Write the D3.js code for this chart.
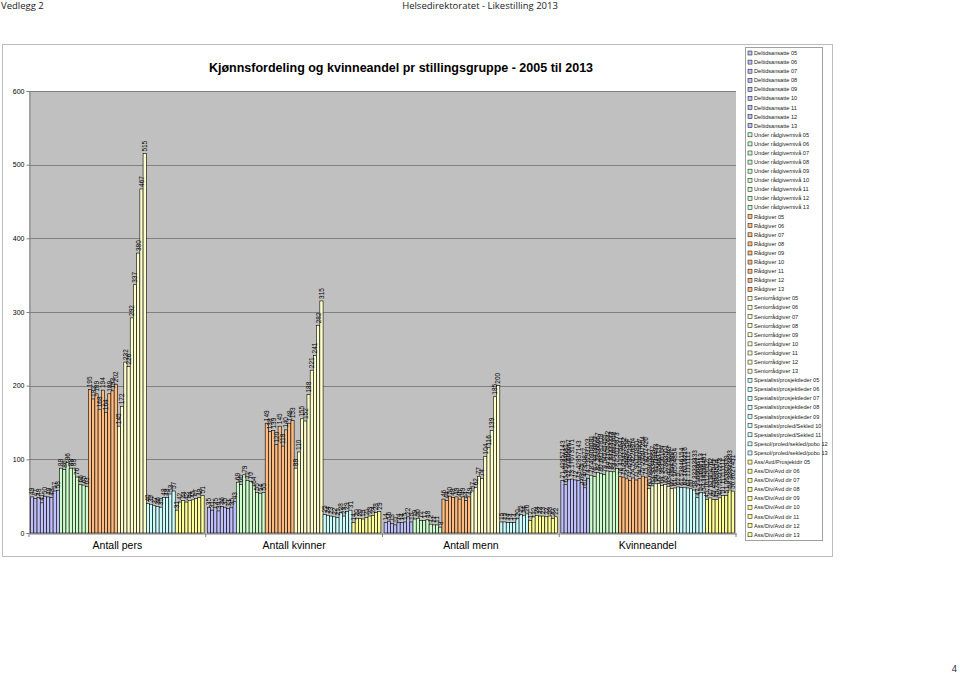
<!DOCTYPE html>
<html>
<head>
<meta charset="utf-8">
<script src="https://cdn.jsdelivr.net/npm/d3@7"></script>
<style>
  body { margin: 0; background: #fff; }
  svg { display: block; font-family: Arial, "Liberation Sans", sans-serif; }
</style>
</head>
<body>
<div id="chart"></div>
<script>
// --- data ---
const groups = ["Antall pers", "Antall kvinner", "Antall menn", "Kvinneandel"];

const seriesNames = [
  "Deltidsansatte 05", "Deltidsansatte 06", "Deltidsansatte 07", "Deltidsansatte 08", "Deltidsansatte 09",
  "Deltidsansatte 10", "Deltidsansatte 11", "Deltidsansatte 12", "Deltidsansatte 13",
  "Under rådgivernivå 05", "Under rådgivernivå 06", "Under rådgivernivå 07", "Under rådgivernivå 08", "Under rådgivernivå 09",
  "Under rådgivernivå 10", "Under rådgivernivå 11", "Under rådgivernivå 12", "Under rådgivernivå 13",
  "Rådgiver 05", "Rådgiver 06", "Rådgiver 07", "Rådgiver 08", "Rådgiver 09",
  "Rådgiver 10", "Rådgiver 11", "Rådgiver 12", "Rådgiver 13",
  "Seniorrådgiver 05", "Seniorrådgiver 06", "Seniorrådgiver 07", "Seniorrådgiver 08", "Seniorrådgiver 09",
  "Seniorrådgiver 10", "Seniorrådgiver 11", "Seniorrådgiver 12", "Seniorrådgiver 13",
  "Spesialist/prosjektleder 05", "Spesialist/prosjektleder 06", "Spesialist/prosjektleder 07",
  "Spesialist/prosjektleder 08", "Spesialist/prosjektleder 09",
  "Spesialist/proled/Sekled 10", "Spesialist/proled/Sekled 11",
  "Spesol/proled/sekled/pobo 12", "Spesol/proled/sekled/pobo 13",
  "Ass/Avd/Prosjektdir 05", "Ass/Div/Avd dir 06", "Ass/Div/Avd dir 07", "Ass/Div/Avd dir 08", "Ass/Div/Avd dir 09",
  "Ass/Div/Avd dir 10", "Ass/Div/Avd dir 11", "Ass/Div/Avd dir 12", "Ass/Div/Avd dir 13"
];

// one fill per stillingsgruppe (9 series each)
const groupColors = ["#c0c0ff", "#ccffcc", "#ffbb80", "#ffffcc", "#ccffff", "#ffff99"];

const antallPers = [
  49, 47, 48, 41, 50, 49, 48, 57, 58,
  88, 86, 96, 88, 88, 76, 66, 65, 63,
  195, 182, 189, 168, 194, 164, 189, 193, 202,
  145, 172, 232, 226, 292, 337, 380, 467, 515,
  40, 39, 37, 36, 35, 48, 48, 53, 57,
  31, 42, 44, 42, 44, 45, 47, 48, 51
];
const antallKvinner = [
  35, 31, 35, 30, 36, 35, 33, 35, 43,
  69, 66, 79, 71, 70, 64, 55, 54, 55,
  149, 138, 139, 120, 145, 118, 140, 149, 153,
  88, 110, 155, 152, 188, 221, 241, 282, 315,
  25, 24, 23, 22, 21, 28, 23, 29, 31,
  14, 20, 20, 19, 21, 23, 24, 28, 29
];
const antallMenn = [
  14, 16, 13, 11, 14, 14, 15, 22, 15,
  19, 20, 17, 17, 18, 12, 11, 11, 8,
  46, 44, 50, 48, 49, 46, 49, 44, 49,
  57, 62, 77, 74, 104, 116, 139, 185, 200,
  15, 15, 14, 14, 14, 20, 25, 24, 26,
  17, 22, 24, 23, 23, 22, 23, 20, 22
];
const kvinneandel = [
  71.42857143, 65.95744681, 72.91666667, 73.17073171, 72, 71.42857143, 68.75, 61.40350877, 74.13793103,
  78.40909091, 76.74418605, 82.29166667, 80.68181818, 79.54545455, 84.21052632, 83.33333333, 83.07692308, 87.3015873,
  76.41025641, 75.82417582, 73.54497354, 71.42857143, 74.74226804, 71.95121951, 74.07407407, 77.20207254, 75.74257426,
  60.68965517, 63.95348837, 66.81034483, 67.25663717, 64.38356164, 65.57863501, 63.42105263, 60.38543897, 61.16504854,
  62.5, 61.53846154, 62.16216216, 61.11111111, 60, 58.33333333, 47.91666667, 54.71698113, 54.38596491,
  45.16129032, 47.61904762, 45.45454545, 45.23809524, 47.72727273, 51.11111111, 51.06382979, 58.33333333, 56.8627451
];
const valuesByGroup = [antallPers, antallKvinner, antallMenn, kvinneandel];

const yTicks = [0, 100, 200, 300, 400, 500, 600];

// --- canvas ---
const W = 960, H = 674;
const svg = d3.select("#chart").append("svg")
  .attr("width", W).attr("height", H)
  .attr("viewBox", `0 0 ${W} ${H}`);

// page header
svg.append("text").attr("x", 1).attr("y", 9)
  .style("font-family", "'Open Sans', sans-serif").style("font-size", "9.5px").attr("fill", "#222")
  .text("Vedlegg 2");
svg.append("text").attr("x", 480).attr("y", 9).attr("text-anchor", "middle")
  .style("font-family", "'Open Sans', sans-serif").style("font-size", "9.5px").attr("fill", "#222")
  .text("Helsedirektoratet - Likestilling 2013");
svg.append("text").attr("x", 957).attr("y", 672).attr("text-anchor", "end")
  .style("font-family", "'Open Sans', sans-serif").style("font-size", "9px").attr("fill", "#222")
  .text("4");

// chart frame
svg.append("rect").attr("x", 2.5).attr("y", 44.5).attr("width", 830).attr("height", 512)
  .attr("fill", "#fff").attr("stroke", "#bdbdbd");

// title
svg.append("text").attr("x", 401).attr("y", 72).attr("text-anchor", "middle")
  .style("font-size", "12.5px").style("font-weight", "bold").attr("fill", "#000")
  .text("Kjønnsfordeling og kvinneandel pr stillingsgruppe - 2005 til 2013");

// --- plot area ---
const plot = { left: 29, right: 736, top: 91, bottom: 533 };

const x0 = d3.scaleBand().domain(groups).range([plot.left, plot.right]).padding(0);
const x1 = d3.scaleBand().domain(d3.range(seriesNames.length))
  .range([0, x0.bandwidth()]).paddingInner(0).paddingOuter(0.5);
const y = d3.scaleLinear().domain([0, 600]).range([plot.bottom, plot.top]);

svg.append("rect")
  .attr("x", plot.left).attr("y", plot.top)
  .attr("width", plot.right - plot.left).attr("height", plot.bottom - plot.top)
  .attr("fill", "#c0c0c0");

// gridlines
svg.append("g").selectAll("line").data(yTicks.filter(d => d > 0)).join("line")
  .attr("x1", plot.left).attr("x2", plot.right)
  .attr("y1", d => Math.round(y(d)) + 0.5).attr("y2", d => Math.round(y(d)) + 0.5)
  .attr("stroke", "#808080").attr("stroke-width", 1);

// y axis
const yAxis = svg.append("g")
  .attr("transform", `translate(${plot.left + 0.5},0)`)
  .call(d3.axisLeft(y).tickValues(yTicks).tickSize(3).tickPadding(2));
yAxis.select(".domain").attr("stroke", "#808080");
yAxis.selectAll(".tick line").attr("stroke", "#808080");
yAxis.selectAll("text").style("font-size", "7px").attr("fill", "#000")
  .style("font-family", "Arial, 'Liberation Sans', sans-serif");

// x axis
const xAxis = svg.append("g")
  .attr("transform", `translate(0,${plot.bottom + 0.5})`)
  .call(d3.axisBottom(x0).tickSize(0).tickPadding(8));
xAxis.select(".domain").attr("stroke", "#808080");
xAxis.selectAll("text").style("font-size", "10.5px").attr("fill", "#000")
  .style("font-family", "Arial, 'Liberation Sans', sans-serif");
svg.append("g").selectAll("line").data(d3.range(groups.length + 1)).join("line")
  .attr("x1", i => plot.left + i * x0.bandwidth()).attr("x2", i => plot.left + i * x0.bandwidth())
  .attr("y1", plot.bottom).attr("y2", plot.bottom + 4)
  .attr("stroke", "#808080");

// --- bars ---
const cells = [];
groups.forEach((g, gi) => {
  valuesByGroup[gi].forEach((v, si) => cells.push({ group: g, series: si, value: v }));
});

svg.append("g").selectAll("rect").data(cells).join("rect")
  .attr("x", d => x0(d.group) + x1(d.series))
  .attr("y", d => y(d.value))
  .attr("width", x1.bandwidth())
  .attr("height", d => y(0) - y(d.value))
  .attr("fill", d => groupColors[Math.floor(d.series / 9)])
  .attr("stroke", "#000").attr("stroke-width", 0.6);

// data labels, vertical
svg.append("g").selectAll("text").data(cells).join("text")
  .attr("transform", d => {
    const cx = x0(d.group) + x1(d.series) + x1.bandwidth() / 2;
    return `translate(${cx},${y(d.value) - 2}) rotate(-90)`;
  })
  .attr("dy", "0.35em")
  .style("font-size", "6.5px").attr("fill", "#000")
  .text(d => String(d.value));

// --- legend ---
const legend = svg.append("g").attr("transform", "translate(745,47)");
legend.append("rect").attr("x", 0.5).attr("y", 0.5).attr("width", 77).attr("height", 493)
  .attr("fill", "#fff").attr("stroke", "#a0a0a0");
const step = 9.09;
const items = legend.selectAll("g.item").data(seriesNames).join("g")
  .attr("class", "item")
  .attr("transform", (d, i) => `translate(3,${6 + i * step})`);
items.append("rect").attr("x", 0).attr("y", -2).attr("width", 4).attr("height", 4)
  .attr("fill", (d, i) => groupColors[Math.floor(i / 9)])
  .attr("stroke", "#000").attr("stroke-width", 0.5);
items.append("text").attr("x", 6).attr("dy", "0.35em")
  .style("font-size", "5.6px").attr("fill", "#222")
  .text(d => d);
</script>
</body>
</html>
